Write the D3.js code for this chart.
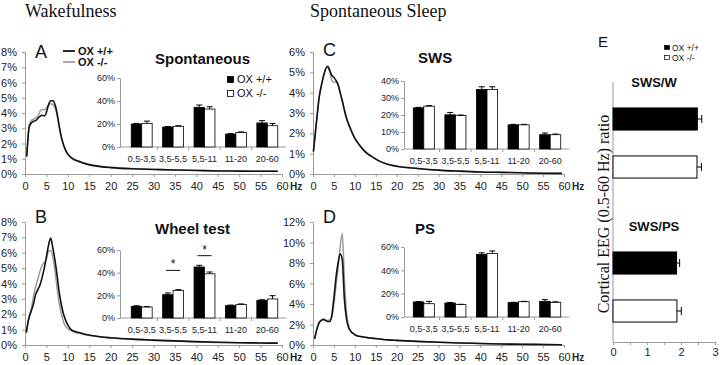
<!DOCTYPE html>
<html>
<head>
<meta charset="utf-8">
<script src="https://cdn.jsdelivr.net/npm/d3@7"></script>
<style>
  body { margin: 0; background: #fff; }
  svg text { font-family: "Liberation Sans", Arial, sans-serif; }
</style>
</head>
<body>
<svg id="fig" width="720" height="365"></svg>
<script>
// ---- spectra (% of total power vs Hz) ----
const hzTicks = [0, 5, 10, 15, 20, 25, 30, 35, 40, 45, 50, 55, 60];

const spontHz = [0.4, 1, 1.5, 2, 2.5, 3, 3.5, 4, 4.5, 5, 5.5, 6, 6.5, 7, 7.5, 8, 8.5, 9, 9.5, 10, 11, 12, 13, 14, 16, 18, 20, 25, 30, 35, 40, 45, 50, 55, 59];
const spontWT = [1.15, 3.1, 3.35, 3.45, 3.5, 3.65, 3.78, 3.85, 3.8, 4.05, 4.55, 4.8, 4.8, 4.55, 3.95, 3.1, 2.4, 1.9, 1.55, 1.3, 1.02, 0.88, 0.78, 0.68, 0.55, 0.47, 0.42, 0.34, 0.3, 0.26, 0.23, 0.2, 0.19, 0.18, 0.18];
const spontKO = [1.15, 3.25, 3.5, 3.6, 3.7, 3.8, 4.1, 4.25, 4.2, 4.35, 4.5, 4.6, 4.55, 4.35, 3.9, 3.1, 2.4, 1.9, 1.55, 1.3, 1.05, 0.9, 0.8, 0.7, 0.57, 0.49, 0.44, 0.36, 0.31, 0.27, 0.24, 0.21, 0.2, 0.19, 0.19];

const wheelHz = [0.3, 0.8, 1.5, 2, 2.5, 3, 3.5, 4, 4.5, 5, 5.5, 6, 6.5, 7, 7.5, 8, 8.5, 9, 9.5, 10, 11, 12, 13, 14, 16, 18, 20, 25, 30, 35, 40, 45, 50, 55, 59];
const wheelWT = [0.8, 1.6, 2.25, 2.7, 3.3, 3.6, 3.9, 4.4, 5.0, 5.75, 6.5, 6.95, 6.3, 5.5, 4.5, 3.4, 2.6, 2.0, 1.6, 1.3, 0.95, 0.85, 0.78, 0.7, 0.6, 0.52, 0.47, 0.38, 0.32, 0.27, 0.22, 0.18, 0.15, 0.13, 0.12];
const wheelKO = [0.8, 1.7, 2.4, 3.2, 3.8, 4.3, 4.8, 5.2, 5.35, 5.6, 6.1, 6.15, 5.7, 4.8, 3.7, 2.7, 2.0, 1.5, 1.2, 1.05, 0.9, 0.8, 0.73, 0.67, 0.58, 0.5, 0.45, 0.37, 0.3, 0.25, 0.2, 0.17, 0.15, 0.13, 0.12];

const swsHz = [0.1, 0.5, 1, 1.5, 2, 2.5, 3, 3.5, 4, 4.5, 5, 5.5, 6, 6.5, 7, 7.5, 8, 9, 10, 11, 12, 13, 14, 16, 18, 20, 25, 30, 35, 40, 45, 50, 55, 59.5];
const swsWT = [1.1, 1.9, 2.9, 3.8, 4.35, 4.8, 5.15, 5.3, 5.1, 4.85, 4.75, 4.6, 4.4, 4.0, 3.6, 3.15, 2.75, 2.2, 1.75, 1.45, 1.2, 1.0, 0.87, 0.62, 0.47, 0.38, 0.27, 0.19, 0.14, 0.1, 0.08, 0.06, 0.04, 0.03];
const swsKO = [1.1, 1.9, 2.9, 3.8, 4.35, 4.8, 5.15, 5.3, 5.0, 4.6, 4.5, 4.55, 4.35, 4.0, 3.6, 3.15, 2.75, 2.2, 1.75, 1.45, 1.2, 1.0, 0.87, 0.62, 0.47, 0.38, 0.27, 0.19, 0.14, 0.1, 0.08, 0.06, 0.04, 0.03];

const psHz = [0.4, 0.9, 1.5, 2, 2.5, 3, 3.5, 4, 4.5, 5, 5.5, 6, 6.5, 7, 7.5, 8, 8.5, 9, 9.5, 10, 11, 12, 13, 14, 16, 18, 20, 25, 30, 35, 40, 45, 50, 55, 59.5];
const psWT = [0.6, 1.5, 2.2, 2.4, 2.5, 2.4, 2.3, 2.3, 2.9, 4.6, 6.6, 8.0, 8.9, 8.3, 4.5, 2.6, 1.7, 1.35, 1.15, 1.0, 0.85, 0.78, 0.72, 0.67, 0.58, 0.5, 0.45, 0.35, 0.27, 0.2, 0.15, 0.1, 0.07, 0.05, 0.03];
const psKO = [0.6, 1.5, 2.2, 2.45, 2.5, 2.45, 2.4, 2.45, 2.7, 4.0, 5.8, 7.5, 9.6, 10.9, 6.5, 3.2, 1.9, 1.4, 1.15, 1.0, 0.85, 0.78, 0.72, 0.67, 0.58, 0.5, 0.45, 0.35, 0.27, 0.2, 0.15, 0.1, 0.07, 0.05, 0.03];

// ---- band power insets (%) ----
const bandLabels = ["0,5-3,5", "3,5-5,5", "5,5-11", "11-20", "20-60"];
const spontBarWT = [20, 17.4, 34.5, 11.2, 20.9], spontBarWTErr = [0.5, 0.4, 2, 0.4, 2];
const spontBarKO = [20.5, 18, 33, 12.6, 18.5], spontBarKOErr = [2, 0.5, 2, 0.5, 2];
const wheelBarWT = [10.3, 20.6, 45, 10.9, 15.6], wheelBarWTErr = [0.5, 1.5, 1.5, 0.5, 0.5];
const wheelBarKO = [9.7, 24.4, 39, 12, 16.8], wheelBarKOErr = [0.3, 0.6, 1.6, 0.4, 2.9];
const swsBarWT = [24.2, 20.1, 35, 14.2, 8.4], swsBarWTErr = [0.3, 1.4, 1.6, 0.3, 1.0];
const swsBarKO = [25.2, 19.7, 35, 14.2, 8.4], swsBarKOErr = [0.3, 0.3, 1.6, 0.3, 0.4];
const psBarWT = [12.9, 12, 53.7, 12.3, 13.4], psBarWTErr = [0.4, 0.4, 1.3, 0.3, 1.5];
const psBarKO = [11.4, 10.6, 54.5, 13.1, 12.6], psBarKOErr = [2, 0.3, 2.1, 0.3, 0.4];
const wheelSig = ["3,5-5,5", "5,5-11"], wheelSigLevel = [42, 55];

// ---- ratio panel E ----
const ratioGroups = ["SWS/W", "SWS/PS"];
const ratioWT = [2.48, 1.87], ratioWTErr = [0.13, 0.09];
const ratioKO = [2.47, 1.88], ratioKOErr = [0.13, 0.13];

const svg = d3.select("#fig");
const SERIF = '"Liberation Serif", "Times New Roman", serif';

function axisStyle(g, size) {
  g.selectAll(".domain").attr("stroke", "#9a9a9a");
  g.selectAll(".tick line").attr("stroke", "#9a9a9a");
  g.selectAll("text").attr("fill", "#222").attr("font-size", size);
}

function spectrum(o) {
  const x = d3.scaleLinear().domain([0, 60]).range([o.left, o.right]);
  const y = d3.scaleLinear().domain([0, o.yTicks[o.yTicks.length - 1]]).range([o.bottom, o.top]);

  svg.append("g").attr("transform", `translate(${o.left},0)`)
    .call(d3.axisLeft(y).tickValues(o.yTicks).tickFormat(d => d + "%").tickSize(3).tickSizeOuter(0).tickPadding(5))
    .call(g => axisStyle(g, 11));
  svg.append("g").attr("transform", `translate(0,${o.bottom})`)
    .call(d3.axisBottom(x).tickValues(hzTicks).tickSize(3).tickSizeOuter(0).tickPadding(5))
    .call(g => axisStyle(g, 11));
  svg.append("text").attr("x", x(60) + 8).attr("y", o.bottom + 16)
    .attr("font-size", 10).attr("font-weight", "bold").attr("fill", "#222").text("Hz");

  const line = d3.line().x((d, i) => x(o.hz[i])).y(d => y(d)).curve(d3.curveMonotoneX);
  svg.append("path").datum(o.ko).attr("d", line)
    .attr("fill", "none").attr("stroke", "#9c9c9c").attr("stroke-width", 1.5);
  svg.append("path").datum(o.wt).attr("d", line)
    .attr("fill", "none").attr("stroke", "#111").attr("stroke-width", 1.6);

  svg.append("text").attr("x", o.left + 10).attr("y", o.letterY)
    .attr("font-size", 18).attr("fill", "#111").text(o.letter);
}

function inset(o) {
  const x = d3.scaleBand().domain(bandLabels).range([o.left, o.right]);
  const sub = d3.scaleBand().domain([0, 1]).range([0, x.bandwidth()]).paddingOuter(0.5);
  const y = d3.scaleLinear().domain([0, o.yTicks[o.yTicks.length - 1]]).range([o.bottom, o.top]);

  svg.append("g").attr("transform", `translate(${o.axisX},0)`)
    .call(d3.axisLeft(y).tickValues(o.yTicks).tickFormat(d => d + "%").tickSize(3).tickSizeOuter(0).tickPadding(2))
    .call(g => axisStyle(g, 9));
  svg.append("line").attr("x1", o.axisX).attr("x2", o.right + 3)
    .attr("y1", y(0)).attr("y2", y(0)).attr("stroke", "#9a9a9a");
  svg.selectAll(null).data(bandLabels.slice(1)).join("line")
    .attr("x1", d => x(d)).attr("x2", d => x(d))
    .attr("y1", y(0)).attr("y2", y(0) + 3).attr("stroke", "#9a9a9a");
  svg.selectAll(null).data(bandLabels).join("text")
    .attr("x", d => x(d) + x.bandwidth() / 2).attr("y", y(0) + 15)
    .attr("text-anchor", "middle").attr("font-size", 9).attr("fill", "#222")
    .text(d => d);

  const series = [
    { vals: o.wt, errs: o.wtErr, fill: "#000" },
    { vals: o.ko, errs: o.koErr, fill: "#fff" }
  ];
  series.forEach((s, si) => {
    const data = bandLabels.map((b, i) => ({ b, v: s.vals[i], e: s.errs[i] }));
    svg.selectAll(null).data(data).join("rect")
      .attr("x", d => x(d.b) + sub(si)).attr("width", sub.bandwidth())
      .attr("y", d => y(d.v)).attr("height", d => y(0) - y(d.v))
      .attr("fill", s.fill).attr("stroke", "#000").attr("stroke-width", 0.8);
    const cx = d => x(d.b) + sub(si) + sub.bandwidth() / 2;
    svg.selectAll(null).data(data).join("line")
      .attr("x1", cx).attr("x2", cx)
      .attr("y1", d => y(d.v)).attr("y2", d => y(d.v + d.e))
      .attr("stroke", "#000").attr("stroke-width", 1);
    svg.selectAll(null).data(data).join("line")
      .attr("x1", d => cx(d) - 3).attr("x2", d => cx(d) + 3)
      .attr("y1", d => y(d.v + d.e)).attr("y2", d => y(d.v + d.e))
      .attr("stroke", "#000").attr("stroke-width", 1);
  });

  svg.append("text").attr("x", o.titleX).attr("y", o.titleY)
    .attr("font-size", 15).attr("font-weight", "bold").attr("fill", "#111").text(o.title);

  if (o.sig) {
    o.sig.forEach((b, i) => {
      const cx = x(b) + x.bandwidth() / 2;
      svg.append("line").attr("x1", cx - 7).attr("x2", cx + 7)
        .attr("y1", y(o.sigLevel[i])).attr("y2", y(o.sigLevel[i]))
        .attr("stroke", "#111").attr("stroke-width", 1);
      svg.append("text").attr("x", cx).attr("y", y(o.sigLevel[i]) - 2)
        .attr("text-anchor", "middle").attr("font-size", 12).attr("fill", "#111").text("*");
    });
  }
}

// section titles
svg.append("text").attr("x", 25).attr("y", 17).style("font-family", SERIF)
  .attr("font-size", 18).attr("fill", "#111").text("Wakefulness");
svg.append("text").attr("x", 310).attr("y", 17).style("font-family", SERIF)
  .attr("font-size", 18).attr("fill", "#111").text("Spontaneous Sleep");

// A
spectrum({ left: 25, right: 282, top: 52, bottom: 174, yTicks: d3.range(0, 9), hz: spontHz, wt: spontWT, ko: spontKO, letter: "A", letterY: 58 });
inset({ left: 126, right: 283, axisX: 120, top: 78, bottom: 147, yTicks: [0, 20, 40, 60],
  wt: spontBarWT, wtErr: spontBarWTErr, ko: spontBarKO, koErr: spontBarKOErr,
  title: "Spontaneous", titleX: 155, titleY: 64 });
// main legend A
[{ c: "#111", t: "OX +/+", y: 51 }, { c: "#9c9c9c", t: "OX -/-", y: 62 }].forEach(d => {
  svg.append("line").attr("x1", 63).attr("x2", 75).attr("y1", d.y).attr("y2", d.y)
    .attr("stroke", d.c).attr("stroke-width", 1.8);
  svg.append("text").attr("x", 78).attr("y", d.y + 4).attr("font-size", 11)
    .attr("font-weight", "bold").attr("fill", "#111").text(d.t);
});
// inset legend A
[{ f: "#000", t: "OX +/+", y: 76 }, { f: "#fff", t: "OX -/-", y: 90 }].forEach(d => {
  svg.append("rect").attr("x", 227.5).attr("y", d.y + 0.5).attr("width", 6).attr("height", 6)
    .attr("fill", d.f).attr("stroke", "#000").attr("stroke-width", 0.8);
  svg.append("text").attr("x", 237).attr("y", d.y + 7).attr("font-size", 11)
    .attr("fill", "#111").text(d.t);
});

// B
spectrum({ left: 25, right: 282, top: 222, bottom: 345, yTicks: d3.range(0, 9), hz: wheelHz, wt: wheelWT, ko: wheelKO, letter: "B", letterY: 223 });
inset({ left: 126, right: 283, axisX: 120, top: 250, bottom: 318, yTicks: [0, 20, 40, 60],
  wt: wheelBarWT, wtErr: wheelBarWTErr, ko: wheelBarKO, koErr: wheelBarKOErr,
  title: "Wheel test", titleX: 155, titleY: 234, sig: wheelSig, sigLevel: wheelSigLevel });

// C
spectrum({ left: 313, right: 564, top: 52, bottom: 174, yTicks: d3.range(0, 7), hz: swsHz, wt: swsWT, ko: swsKO, letter: "C", letterY: 56 });
inset({ left: 408, right: 566, axisX: 404, top: 81, bottom: 149, yTicks: [0, 10, 20, 30, 40],
  wt: swsBarWT, wtErr: swsBarWTErr, ko: swsBarKO, koErr: swsBarKOErr,
  title: "SWS", titleX: 418, titleY: 63 });

// D
spectrum({ left: 313, right: 564, top: 222, bottom: 345, yTicks: d3.range(0, 13, 2), hz: psHz, wt: psWT, ko: psKO, letter: "D", letterY: 223 });
inset({ left: 408, right: 566, axisX: 404, top: 247, bottom: 317, yTicks: [0, 20, 40, 60],
  wt: psBarWT, wtErr: psBarWTErr, ko: psBarKO, koErr: psBarKOErr,
  title: "PS", titleX: 415, titleY: 234 });

// E : ratios
const rows = [];
ratioGroups.forEach((g, i) => {
  rows.push({ key: g + " wt", g, v: ratioWT[i], e: ratioWTErr[i], fill: "#000" });
  rows.push({ key: g + " ko", g, v: ratioKO[i], e: ratioKOErr[i], fill: "#fff" });
  if (i < ratioGroups.length - 1) rows.push({ key: "gap" + i, v: null });
});
const bars = rows.filter(r => r.v !== null);
const yE = d3.scaleBand().domain(rows.map(r => r.key)).range([95, 335]).paddingInner(0.54).paddingOuter(0.27);
const xE = d3.scaleLinear().domain([0, 3]).range([613, 715]);

svg.append("line").attr("x1", xE(0)).attr("x2", xE(0)).attr("y1", 82).attr("y2", 342).attr("stroke", "#9a9a9a");
svg.append("g").attr("transform", "translate(0,342)")
  .call(d3.axisBottom(xE).tickValues(d3.range(0, 3.01, 0.5)).tickFormat(d => Number.isInteger(d) ? d : "")
    .tickSize(3).tickSizeOuter(0).tickPadding(3))
  .call(g => axisStyle(g, 11));

svg.selectAll(null).data(bars).join("rect")
  .attr("x", xE(0)).attr("y", d => yE(d.key))
  .attr("width", d => xE(d.v) - xE(0)).attr("height", yE.bandwidth())
  .attr("fill", d => d.fill).attr("stroke", "#000").attr("stroke-width", 1);
svg.selectAll(null).data(bars).join("line")
  .attr("x1", d => xE(d.v)).attr("x2", d => xE(d.v + d.e))
  .attr("y1", d => yE(d.key) + yE.bandwidth() / 2).attr("y2", d => yE(d.key) + yE.bandwidth() / 2)
  .attr("stroke", "#000").attr("stroke-width", 1);
svg.selectAll(null).data(bars).join("line")
  .attr("x1", d => xE(d.v + d.e)).attr("x2", d => xE(d.v + d.e))
  .attr("y1", d => yE(d.key) + yE.bandwidth() / 2 - 4).attr("y2", d => yE(d.key) + yE.bandwidth() / 2 + 4)
  .attr("stroke", "#000").attr("stroke-width", 1);
svg.selectAll(null).data(ratioGroups).join("text")
  .attr("x", 654).attr("y", d => yE(d + " wt") - 21)
  .attr("text-anchor", "middle").attr("font-size", 13).attr("font-weight", "bold")
  .attr("fill", "#111").text(d => d);

svg.append("text").attr("x", 598).attr("y", 47).attr("font-size", 15).attr("fill", "#111").text("E");
svg.append("text").attr("transform", "translate(609,214) rotate(-90)")
  .attr("text-anchor", "middle").style("font-family", SERIF).attr("font-size", 16)
  .attr("fill", "#111").text("Cortical EEG (0.5-60 Hz) ratio");
[{ f: "#000", t: "OX +/+", y: 44 }, { f: "#fff", t: "OX -/-", y: 54 }].forEach(d => {
  svg.append("rect").attr("x", 664.5).attr("y", d.y + 1.5).attr("width", 5).attr("height", 4)
    .attr("fill", d.f).attr("stroke", "#000").attr("stroke-width", 0.7);
  svg.append("text").attr("x", 672).attr("y", d.y + 7).attr("font-size", 8.5)
    .attr("fill", "#111").text(d.t);
});
</script>
</body>
</html>
